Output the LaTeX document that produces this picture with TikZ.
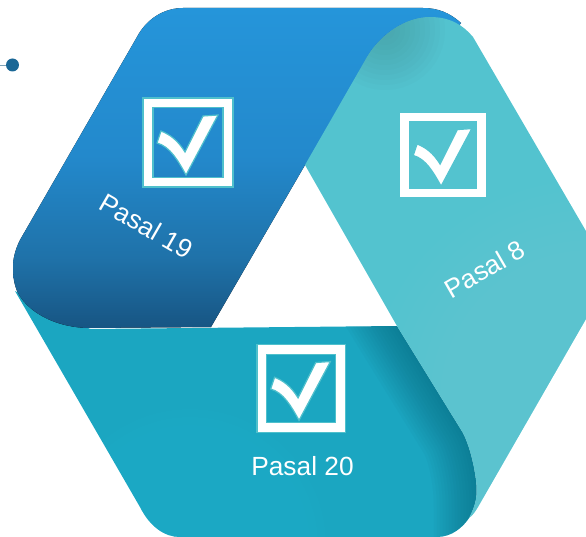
\documentclass[tikz,border=0pt]{standalone}
\usepackage{fontspec}
\setmainfont{Liberation Sans}
\definecolor{b1}{HTML}{2595DA}
\definecolor{b2}{HTML}{2389CC}
\definecolor{b3}{HTML}{1F72A9}
\definecolor{b4}{HTML}{175583}
\definecolor{teallow}{HTML}{1BA6C1}
\definecolor{tealbright}{HTML}{2EC4E0}
\definecolor{tealdark}{HTML}{0A5F74}
\definecolor{aqua}{HTML}{53C3CF}
\definecolor{aqualight}{HTML}{7AD2DA}
\definecolor{aquadark}{HTML}{4A7F80}
\definecolor{outline}{HTML}{4FC0CC}
\definecolor{dotblue}{HTML}{1A6796}
\definecolor{dotline}{HTML}{7FA3B8}
\pgfdeclareverticalshading{bluegrad}{100bp}{color(0bp)=(b4); color(25bp)=(b4); color(36bp)=(b3); color(52bp)=(b2); color(75bp)=(b1); color(100bp)=(b1)}
\def\lowerband{(15,291) -- (140,507) .. controls (150,527) and (165,537) .. (180,537) -- (437,537) .. controls (452,537) and (463,527) .. (469,518) .. controls (476,505) and (478,495) .. (476,480) .. controls (474,465) and (470,447) .. (463,433) -- (397,326) -- (90,329) -- cycle}
\def\blueband{(183,8) -- (423,8) .. controls (438,8) and (450,13) .. (461,23) -- (400,100) -- (305,165) -- (211,327) -- (90,328) .. controls (60,328) and (30,315) .. (18,293) .. controls (14,285) and (13,276) .. (13,267) .. controls (13,257) and (16,248) .. (20,240) -- (137,37) .. controls (147,18) and (165,8) .. (183,8) -- cycle}
\def\aquaband{(305,165) -- (367,57) .. controls (380,35) and (405,17) .. (430,17) .. controls (450,17) and (463,25) .. (473,37) -- (590,238) .. controls (600,255) and (600,285) .. (590,312) -- (478,507) .. controls (475,512) and (473,515) .. (469,518) .. controls (476,505) and (478,495) .. (476,480) .. controls (474,465) and (470,447) .. (463,433) -- (397,326) -- cycle}
\tikzset{
  softstroke/.style={line cap=butt,line join=round},
  label/.style={text=white,font=\fontsize{26.3}{30}\selectfont,inner sep=0pt},
  pics/checkbox/.style={code={
    \path[fill=white,draw=#1,line width=1.2pt,even odd rule] (-45,-44.5) rectangle (45,44.5) (-35,-35) rectangle (35,35);
    \path[fill=white,draw=#1,line width=1.2pt,line join=miter] (-27,-11.5) -- (-31,.5) .. controls (-18,4) and (-10,18) .. (-2,32.5) -- (30,-27.5) -- (15,-26.5) -- (-3,9.5) .. controls (-10,-2) and (-18,-8) .. cycle;
  }}
}
\begin{document}
\begin{tikzpicture}[x=1pt,y=-1pt]
\clip (0,0) rectangle (586,537);
% lower band
\begin{scope}
  \clip \lowerband;
  \fill[teallow] (0,280) rectangle (586,537);
  \foreach \r in {8,16,...,140}{
    \fill[tealbright,opacity=.035] (190,545) circle[radius=\r];
  }
  \foreach \w in {4,10,...,88}{
    \draw[softstroke,tealdark,line width=\w pt,opacity=.045] (380,298) -- (397,326) -- (463,433) .. controls (470,447) and (474,465) .. (476,480) .. controls (478,495) and (478,510) .. (478,560);
  }
\end{scope}
% blue band
\fill[shading=bluegrad] \blueband;
% aqua band
\begin{scope}
  \clip \aquaband;
  \fill[aqua] (300,0) rectangle (600,537);
  \foreach \r in {10,20,...,220}{
    \fill[aqualight,opacity=.03] (590,400) circle[radius=\r];
  }
  \foreach \r in {5,10,...,60}{
    \fill[aquadark,opacity=.035] (385,30) circle[radius=\r];
  }
\end{scope}
% check boxes
\pic (boxa) at (188,142.5) {checkbox=outline};
\pic[scale=.96] (boxb) at (443,155) {checkbox=aqua};
\pic[scale=.98] (boxc) at (301,388.5) {checkbox=outline};
% labels
\node[label,rotate=-30] (pasala) at (146.5,226) {Pasal 19};
\node[label,rotate=30] (pasalb) at (485,269) {Pasal 8};
\node[label] (pasalc) at (302.5,466) {Pasal 20};
% dot
\coordinate (dotend) at (0,65);
\node[circle,fill=dotblue,minimum size=13pt,inner sep=0pt] (dot) at (12.5,65) {};
\draw[dotline,line width=.7pt] (dotend) -- (dot);
\end{tikzpicture}
\end{document}
